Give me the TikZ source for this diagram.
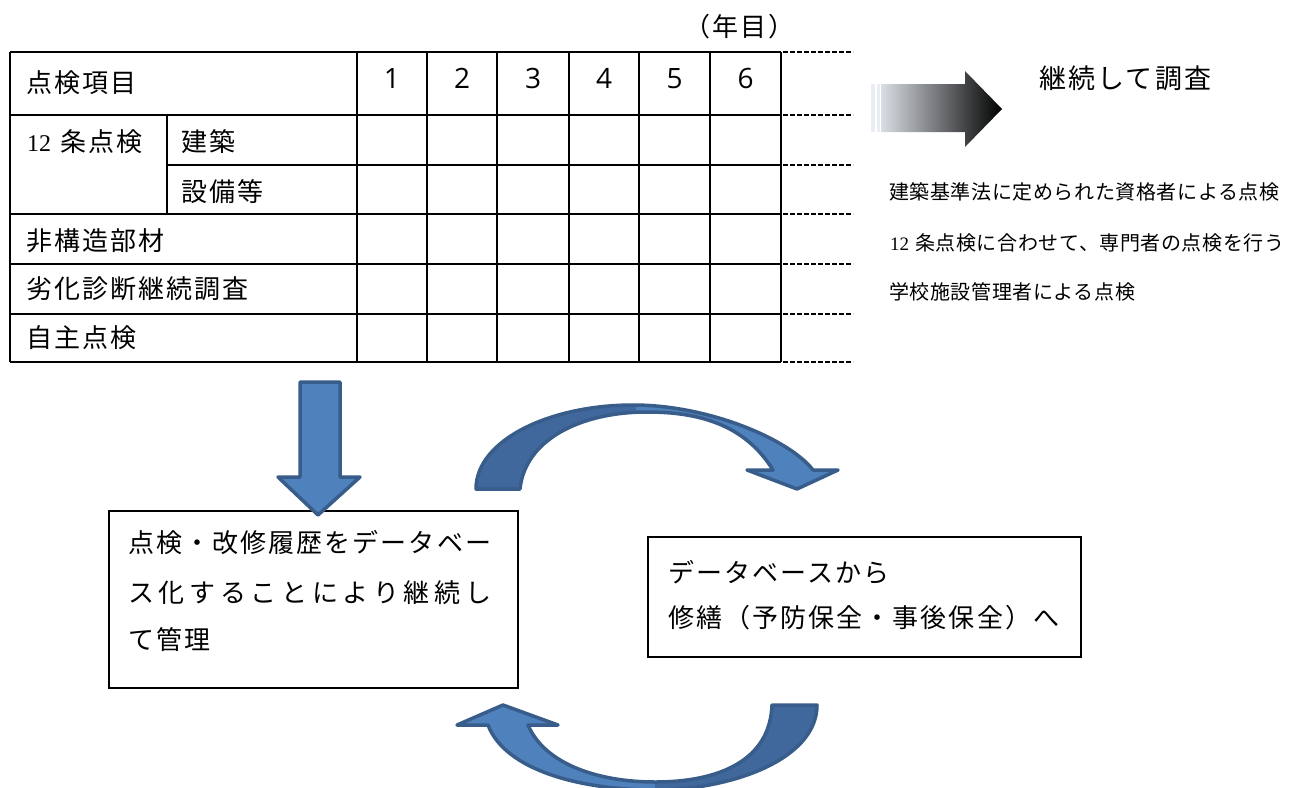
\documentclass[tikz,border=0pt]{standalone}
\usepackage{fontspec}
\newfontfamily\jp[LetterSpace=8]{Noto Sans CJK JP}
\newfontfamily\jpw[LetterSpace=18]{Noto Sans CJK JP}
\newfontfamily\jps[LetterSpace=3]{Noto Sans CJK JP}
\newfontfamily\serifd{Liberation Serif}
\newfontfamily\numf{Open Sans}
\definecolor{arrowfill}{HTML}{4F81BD}
\definecolor{arrowdark}{HTML}{41689C}
\definecolor{arrowline}{HTML}{385D8A}
\definecolor{grlight}{HTML}{DADEE4}
\definecolor{grstrip}{HTML}{E9ECF1}
\tikzset{
  tline/.style={line width=2pt, black},
  dline/.style={line width=2pt, black, dash pattern=on 5pt off 2pt},
  lbl/.style={anchor=base west, inner sep=0pt, font={\jp\fontsize{26}{30}\selectfont}},
  lblbig/.style={anchor=base west, inner sep=0pt, font={\jp\fontsize{27}{31}\selectfont}},
  lblwide/.style={anchor=base west, inner sep=0pt, font={\jpw\fontsize{26}{30}\selectfont}},
  note/.style={anchor=base west, inner sep=0pt, font={\jps\fontsize{20}{24}\selectfont}},
  num/.style={anchor=base, inner sep=0pt, font={\numf\fontsize{28}{32}\selectfont}},
  textbox/.style={draw=black, line width=1.4pt, fill=white, inner sep=0pt},
  bluearrow/.style={fill=arrowfill, draw=arrowline, line width=3.5pt, line join=round},
  blueedge/.style={draw=arrowline, line width=3.5pt, line join=round},
}
\begin{document}
\begin{tikzpicture}[x=1pt,y=-1pt]
\useasboundingbox (0,0) rectangle (1290,787);
\fill[white] (0,0) rectangle (1290,787);
\clip (0,0) rectangle (1290,787);

% ---------- table ----------
\foreach \yy in {52,115,214,264,314,362} \draw[tline] (10,\yy) -- (781,\yy);
\draw[tline] (167,165) -- (781,165);
\foreach \xx in {10,357,427,497,569,639,710,781} \draw[tline] (\xx,52) -- (\xx,362);
\draw[tline] (167,115) -- (167,214);
\foreach \yy in {52,115,165,214,264,314,362} \draw[dline] (783,\yy) -- (853,\yy);

\node[lbl] (nendo) at (684,36) {（年目）};
\node[lbl] (h0) at (26,92) {点検項目};
\node[num] (c1) at (392,88) {1};
\node[num] (c2) at (462,88) {2};
\node[num] (c3) at (533,88) {3};
\node[num] (c4) at (604,88) {4};
\node[num] (c5) at (674.5,88) {5};
\node[num] (c6) at (745.5,88) {6};
\node[lbl] (r1) at (27,151) {{\serifd\fontsize{24}{28}\selectfont 12}\hspace{9pt}条点検};
\node[lbl] (r1a) at (181,151) {建築};
\node[lbl] (r1b) at (181,201) {設備等};
\node[lbl] (r2) at (26,250) {非構造部材};
\node[lbl] (r3) at (26,298) {劣化診断継続調査};
\node[lbl] (r4) at (26,347) {自主点検};

% ---------- gradient arrow ----------
\fill[grstrip] (871,84) rectangle (875,132);
\fill[grstrip] (877,84) rectangle (880,132);
\shade[left color=grlight, right color=black]
  (881,84) -- (965,84) -- (965,71) -- (1002,109) -- (965,147) -- (965,132) -- (881,132) -- cycle;
\node[lblbig] (cont) at (1039,88) {継続して調査};

\node[note] (n1) at (889,199.5) {建築基準法に定められた資格者による点検};
\node[note] (n2) at (890,250.5) {{\serifd\fontsize{19}{23}\selectfont 12}\hspace{6pt}条点検に合わせて、専門者の点検を行う};
\node[note] (n3) at (889,299.5) {学校施設管理者による点検};

% ---------- boxes ----------
\node[textbox, minimum width=409pt, minimum height=177pt] (box1) at (313.5,599.5) {};
\node[lbl] (b1l1) at (128,552) {点検・改修履歴をデータベー};
\node[lblwide] (b1l2) at (128,602) {ス化することにより継続し};
\node[lbl] (b1l3) at (128,649) {て管理};

\node[textbox, minimum width=433pt, minimum height=120pt] (box2) at (864.5,597) {};
\node[lbl] (b2l1) at (668,582) {データベースから};
\node[lbl] (b2l2) at (668,627) {修繕（予防保全・事後保全）へ};

% ---------- down arrow ----------
\draw[bluearrow] (300,382) -- (340,382) -- (340,477) -- (360,477) -- (318,515)
  -- (278,477) -- (300,477) -- cycle;

% ---------- top curved arrow ----------
\def\toparrow{(476,489) .. controls (476,440) and (550,405) .. (633,405)
  .. controls (710,405) and (790,440) .. (813,470)
  -- (838,470) -- (797,489) -- (747,470) -- (773,470)
  .. controls (745,425) and (700,412) .. (647,412)
  .. controls (580,412) and (525,440) .. (520,489) -- cycle}
\fill[arrowfill] \toparrow;
\begin{scope}
  \clip (0,0) rectangle (636,787);
  \fill[arrowdark] \toparrow;
\end{scope}
\draw[blueedge] \toparrow;

% ---------- bottom curved arrow ----------
\def\botarrow{(817,705) .. controls (817,760) and (730,790) .. (655,790)
  .. controls (580,790) and (505,770) .. (488,725)
  -- (457,725) -- (503,705) -- (558,725) -- (528,725)
  .. controls (545,765) and (600,782) .. (655,782)
  .. controls (720,782) and (770,760) .. (772,705) -- cycle}
\fill[arrowfill] \botarrow;
\begin{scope}
  \clip (655,0) rectangle (1290,787);
  \fill[arrowdark] \botarrow;
\end{scope}
\draw[blueedge] \botarrow;
\end{tikzpicture}
\end{document}
